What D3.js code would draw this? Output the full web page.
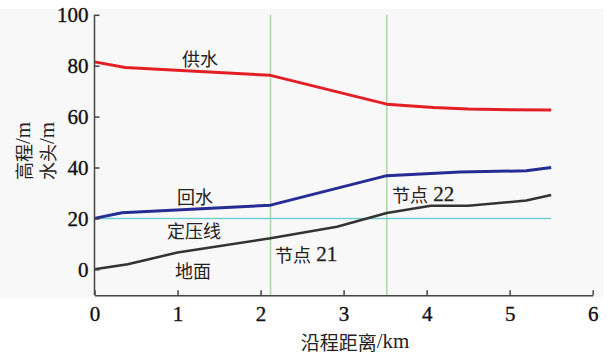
<!DOCTYPE html>
<html><head><meta charset="utf-8">
<script src="https://cdn.jsdelivr.net/npm/d3@7"></script>
<style>
body{margin:0;background:#fff}svg{display:block}
</style>
</head><body>
<svg id="c" width="607" height="357"></svg>
<script>
// Data
const supplyX = [0, 0.37, 2.12, 3.52, 4.08, 4.5, 5.0, 5.5];
const supplyY = [81.5, 79.3, 76.2, 64.9, 63.6, 63.0, 62.7, 62.6];
const returnX = [0, 0.33, 2.12, 3.52, 4.4, 5.2, 5.5];
const returnY = [20, 22.2, 25.2, 36.8, 38.2, 38.7, 40.0];
const groundX = [0, 0.4, 1.0, 2.12, 2.92, 3.52, 4.05, 4.5, 5.2, 5.5];
const groundY = [0, 2.0, 6.6, 12.2, 16.7, 22.1, 25.0, 25.0, 27.0, 29.2];
const staticX = [0, 5.5];
const staticY = [20, 20];
const nodeX = [2.12, 3.52];
const xTicks = [0, 1, 2, 3, 4, 5, 6];
const yTicks = [0, 20, 40, 60, 80, 100];

const SERIF = "Liberation Serif";
const CJK = "Noto Sans CJK SC";

const svg = d3.select("#c");
const x = d3.scaleLinear().domain([0, 6]).range([94.5, 592.7]);
const y = d3.scaleLinear().domain([0, 100]).range([269.3, 14.8]);
const y0 = y(-10.2);

svg.append("rect").attr("x", 0).attr("y", 9).attr("width", 603).attr("height", 289).attr("fill", "#f8f8f8");

svg.selectAll(".node").data(nodeX).enter().append("line")
  .attr("x1", d => x(d)).attr("x2", d => x(d)).attr("y1", y(100)).attr("y2", y0)
  .attr("stroke", "#a6d9a0").attr("stroke-width", 1.5);

const line = d3.line().x(d => x(d[0])).y(d => y(d[1]));
const zip = (a, b) => a.map((v, i) => [v, b[i]]);

svg.append("path").datum(zip(staticX, staticY)).attr("d", line)
  .attr("fill", "none").attr("stroke", "#70d0d0").attr("stroke-width", 1.5);
svg.append("path").datum(zip(groundX, groundY)).attr("d", line)
  .attr("fill", "none").attr("stroke", "#333").attr("stroke-width", 2.5).attr("stroke-linejoin", "round");
svg.append("path").datum(zip(returnX, returnY)).attr("d", line)
  .attr("fill", "none").attr("stroke", "#262c94").attr("stroke-width", 3).attr("stroke-linejoin", "round");
svg.append("path").datum(zip(supplyX, supplyY)).attr("d", line)
  .attr("fill", "none").attr("stroke", "#e31e24").attr("stroke-width", 3).attr("stroke-linejoin", "round");

const xAxis = d3.axisBottom(x).tickValues(xTicks).tickFormat(d3.format("d")).tickSizeInner(-5).tickSizeOuter(0).tickPadding(11);
const gx = svg.append("g").attr("transform", `translate(0,${y0})`).call(xAxis);
const yAxis = d3.axisLeft(y).tickValues(yTicks).tickFormat(d3.format("d")).tickSizeInner(-5).tickSizeOuter(0).tickPadding(6);
const gy = svg.append("g").attr("transform", `translate(${x(0)},0)`).call(yAxis);
gy.select(".domain").attr("d", `M0,${y(100)}V${y0}`);
[gx, gy].forEach(g => {
  g.attr("font-family", SERIF).attr("font-size", 21);
  g.selectAll("path,line").attr("stroke", "#444").attr("stroke-width", 1.5);
  g.selectAll("text").attr("font-family", SERIF).attr("font-size", 21).attr("fill", "#111")
    .attr("stroke", "#111").attr("stroke-width", 0.35);
});

function label(t, xx, yy) {
  svg.append("text").attr("x", xx).attr("y", yy).attr("dominant-baseline", "central")
    .attr("font-family", CJK).attr("font-size", 18).attr("fill", "#222").text(t);
}
label("供水", 182, 58);
label("回水", 177, 196);
label("定压线", 167, 230);
label("地面", 175, 270);
function nodeLabel(num, xx, yy) {
  const t = svg.append("text").attr("x", xx).attr("y", yy).attr("dominant-baseline", "central").attr("fill", "#222");
  t.append("tspan").attr("font-family", CJK).attr("font-size", 18).text("节点");
  t.append("tspan").attr("font-family", SERIF).attr("font-size", 21).attr("stroke", "#222").attr("stroke-width", 0.3).text(" " + num);
}
nodeLabel("21", 275, 254);
nodeLabel("22", 392, 194);

const xt = svg.append("text").attr("x", 355).attr("y", 341).attr("text-anchor", "middle")
  .attr("dominant-baseline", "central").attr("fill", "#222");
xt.append("tspan").attr("font-family", CJK).attr("font-size", 19).text("沿程距离");
xt.append("tspan").attr("font-family", SERIF).attr("font-size", 21).text("/km");
[["高程", 23], ["水头", 47]].forEach(([t, cx]) => {
  const tt = svg.append("text").attr("transform", `translate(${cx},151) rotate(-90)`).attr("text-anchor", "middle")
    .attr("dominant-baseline", "central").attr("fill", "#222");
  tt.append("tspan").attr("font-family", CJK).attr("font-size", 18).text(t);
  tt.append("tspan").attr("font-family", SERIF).attr("font-size", 21).text("/m");
});
</script>
</body></html>
